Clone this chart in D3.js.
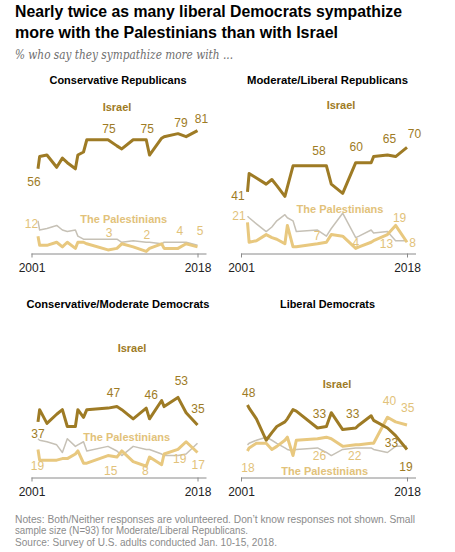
<!DOCTYPE html>
<html><head><meta charset="utf-8">
<script src="https://cdn.jsdelivr.net/npm/d3@7"></script>
<style>
html,body{margin:0;padding:0;background:#fff;}
svg{display:block;font-family:"Liberation Sans",Arial,sans-serif;}
</style></head><body>
<svg id="chart" width="455" height="552"></svg>
<script>
// ---------- DATA ----------
const surveyDates = ["2001-09","2001-11","2002-08","2003-08","2004-03","2004-09","2005-07","2005-10","2006-05","2006-09",
  "2008-11","2009-10","2010-04","2011-06","2012-10","2013-02","2014-05","2014-08","2016-01","2016-11","2018-01"];
const axisTickYears = ["2001","2018"];
const panelNames = ["Conservative Republicans","Moderate/Liberal Republicans","Conservative/Moderate Democrats","Liberal Democrats"];

const crIsrael = [56,64,65,57,63,60,56,65,67,75,75,71,69,75,75,65,76,77,79,77,81];
const crPalestinians = [12,6,6,8,5,8,4,8,8,7,3,4,7,5,2,4,7,4,4,7,5];
const crBothNeither = [22,16,17,19,16,15,16,12,10,10,10,10,8,9,8,8,7,8,8,8,6];

const mlrIsrael = [41,53,50,46,49,45,38,44,58,58,58,58,46,40,60,60,60,64,65,64,70];
const mlrPalestinians = [21,8,9,13,11,10,7,19,5,5,7,8,13,12,4,5,8,9,13,19,8];
const mlrBothNeither = [25,24,20,15,18,22,26,24,22,15,16,12,17,27,11,12,16,14,15,9,9];

const cmdIsrael = [37,45,36,42,45,34,34,45,40,45,46,47,45,39,46,39,51,47,53,43,35];
const cmdPalestinians = [19,12,12,12,13,13,16,18,10,10,15,14,18,11,8,14,9,16,19,24,17];
const cmdBothNeither = [26,25,24,22,17,26,21,22,24,18,21,18,15,21,19,19,16,15,15,16,23];

const ldIsrael = [48,46,39,25,30,34,37,39,45,44,33,34,43,32,33,35,41,38,33,28,19];
const ldPalestinians = [18,20,23,23,19,21,25,27,15,25,26,27,26,21,22,22,23,23,40,37,35];
const ldBothNeither = [22,23,25,27,25,23,20,19,18,19,20,17,15,19,20,20,20,19,17,21,21];

// ---------- LAYOUT / STYLE ----------
const C = {israel:"#9e7b25", pal:"#e8c87f", other:"#c6c1b6", israelTxt:"#9e7b25", palTxt:"#e2c27a"};
const panels = [
  {title:panelNames[0], israel:crIsrael, pal:crPalestinians, other:crBothNeither, ox:0, oy:0, tw:137,
   iLab:[117,110.7], pLab:[123.7,222.7],
   labels:[["i",0,-4,17],["i",10,1,-6.5],["i",14,1,-6.5],["i",18,3,-7],["i",20,4,-8],
           ["p",0,-6.5,-8],["p",10,1,-13],["p",14,0.5,-12],["p",18,2,-13],["p",20,2.5,-11.5]]},
  {title:panelNames[1], israel:mlrIsrael, pal:mlrPalestinians, other:mlrBothNeither, ox:209.5, oy:0, tw:161,
   iLab:[131.5,109], pLab:[130.5,213],
   labels:[["i",0,-9.5,8],["i",10,1.5,-11],["i",14,0.5,-11.7],["i",18,2,-12],["i",20,7.5,-9],
           ["p",0,-8.5,-2.4],["p",10,-0.5,-4],["p",14,0,-1.7],["p",18,-1,13],["p",19,4,-3.7],["p",20,5.5,4.4]]},
  {title:panelNames[2], israel:cmdIsrael, pal:cmdPalestinians, other:cmdBothNeither, ox:0, oy:224, tw:183,
   iLab:[132,127.7], pLab:[126.7,217],
   labels:[["i",0,0,16],["i",11,-3.4,-9.3],["i",14,5,-9],["i",18,3.4,-12.4],["i",20,0.5,-11.7],
           ["p",0,-0.6,21],["p",10,2.7,19.5],["p",14,-1,8.7],["p",18,1.7,14],["p",20,0.8,17]]},
  {title:panelNames[3], israel:ldIsrael, pal:ldPalestinians, other:ldBothNeither, ox:209.5, oy:224, tw:95,
   iLab:[127.5,164], pLab:[115.2,251],
   labels:[["i",0,1.2,-8],["i",10,2,-9.7],["i",14,-3,-9.7],["i",18,4,18.7],["i",20,-1,22],
           ["p",0,0.5,20.7],["p",10,2,21],["p",14,-1,15],["p",18,2,-12],["p",20,0.8,-13]]}
];

const parse = d3.timeParse("%Y-%m");
const parseY = d3.timeParse("%Y");
const dates = surveyDates.map(parse);
const x = d3.scaleTime().domain([parseY("2001"), parseY("2018")]).range([31.5, 197.5]);
const y = d3.scaleLinear().domain([0,100]).range([254.5, 101.5]);

const svg = d3.select("#chart");

// Title
const title = svg.append("g").attr("font-weight","bold").attr("fill","#000").attr("font-size",16);
title.append("text").attr("x",15).attr("y",17).attr("textLength",387).attr("lengthAdjust","spacingAndGlyphs")
  .text("Nearly twice as many liberal Democrats sympathize");
title.append("text").attr("x",15).attr("y",37.5).attr("textLength",323).attr("lengthAdjust","spacingAndGlyphs")
  .text("more with the Palestinians than with Israel");
svg.append("text").attr("x",15).attr("y",59).attr("font-family","'DejaVu Serif','Liberation Serif',serif")
  .attr("font-style","italic").attr("font-size",12).attr("fill","#6e6e6e")
  .attr("textLength",218).attr("lengthAdjust","spacingAndGlyphs")
  .text("% who say they sympathize more with ...");

const line = vals => d3.line().x((d,i)=>x(dates[i])).y(d=>y(d)).curve(d3.curveLinear)(vals);

panels.forEach(p => {
  const g = svg.append("g").attr("transform",`translate(${p.ox},${p.oy})`);
  g.append("text").attr("x",118).attr("y",84).attr("text-anchor","middle").attr("font-weight","bold")
    .attr("font-size",11).attr("fill","#000").attr("textLength",p.tw).attr("lengthAdjust","spacingAndGlyphs").text(p.title);

  // axis
  const axisY = 253.5;
  const ax = g.append("g").attr("transform",`translate(0,${axisY})`)
    .call(d3.axisBottom(x).tickValues(axisTickYears.map(parseY)).tickFormat(d3.timeFormat("%Y")).tickSize(4).tickSizeOuter(0));
  ax.select(".domain").attr("d",`M${x(parseY("2001"))},0.5H${x(parseY("2018"))+9}`).attr("stroke","#8a8a8a");
  ax.selectAll(".tick line").attr("stroke","#8a8a8a");
  ax.selectAll(".tick text").attr("font-size",12).attr("fill","#222").attr("dy",0).attr("y",18.5)
    .attr("font-family","'Liberation Sans',Arial,sans-serif");

  // lines
  [["other",C.other,1.5],["pal",C.pal,3],["israel",C.israel,3]].forEach(([k,col,w]) => {
    g.append("path").attr("d",line(p[k])).attr("fill","none").attr("stroke",col)
      .attr("stroke-width",w).attr("stroke-linejoin","round");
  });

  // series labels
  g.append("text").attr("x",p.iLab[0]).attr("y",p.iLab[1]).attr("text-anchor","middle")
    .attr("font-weight","bold").attr("font-size",11).attr("fill",C.israelTxt).text("Israel");
  g.append("text").attr("x",p.pLab[0]).attr("y",p.pLab[1]).attr("text-anchor","middle")
    .attr("font-weight","bold").attr("font-size",11).attr("fill",C.palTxt).text("The Palestinians");

  // value labels
  p.labels.forEach(([s,i,dx,dy]) => {
    const vals = s==="i" ? p.israel : p.pal;
    g.append("text").attr("x",x(dates[i])+dx).attr("y",y(vals[i])+dy).attr("text-anchor","middle")
      .attr("font-size",12).attr("fill", s==="i" ? C.israelTxt : C.palTxt).text(vals[i]);
  });
});

// Notes
const notes = svg.append("g").attr("font-size",10.5).attr("fill","#8b8b8b");
[["Notes: Both/Neither responses are volunteered. Don\u2019t know responses not shown. Small",522.7,400],
 ["sample size (N=93) for Moderate/Liberal Republicans.",534,233],
 ["Source: Survey of U.S. adults conducted Jan. 10-15, 2018.",545.5,262]].forEach(([t,yy,w]) => {
  notes.append("text").attr("x",15).attr("y",yy).attr("textLength",w).attr("lengthAdjust","spacingAndGlyphs").text(t);
});
</script>
</body></html>
